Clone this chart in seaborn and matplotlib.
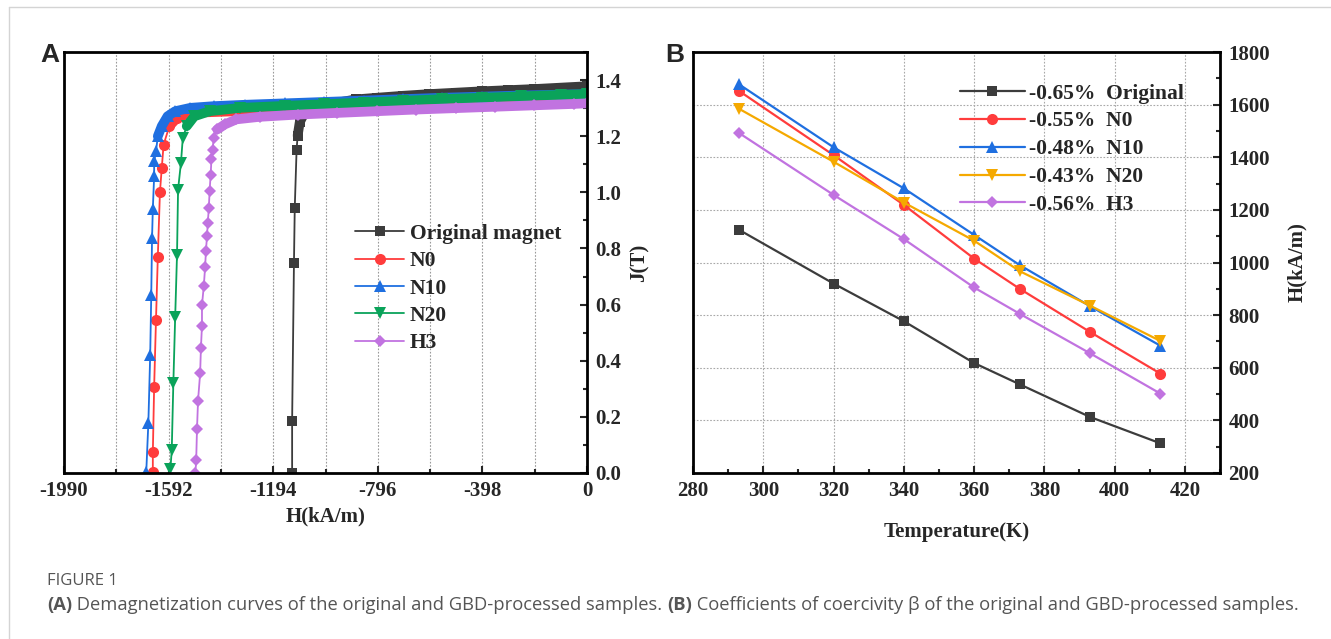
import matplotlib
matplotlib.use("Agg")
import matplotlib.pyplot as plt
from matplotlib.ticker import MultipleLocator, FixedLocator
from matplotlib.lines import Line2D
import numpy as np
import seaborn as sns

# ---------- panel A: demagnetization curves (H in kA/m, J in T) ----------
H_orig = [-1122, -1122, -1115, -1112, -1105, -1101, -1093, -1075, -1040, -960, -880,
          -800, -700, -600, -500, -400, -300, -200, -100, 0]
J_orig = [0.000, 0.185, 0.749, 0.944, 1.152, 1.202, 1.250, 1.283, 1.297, 1.318, 1.331,
          1.337, 1.344, 1.350, 1.355, 1.360, 1.364, 1.368, 1.373, 1.378]

H_n0 = [-1652, -1652, -1647, -1640, -1633, -1625, -1618, -1611, -1589, -1560, -1509,
        -1334, -1150, -1000, -850, -700, -550, -400, -250, -100, 0]
J_n0 = [0.004, 0.074, 0.307, 0.545, 0.771, 1.000, 1.087, 1.170, 1.236, 1.265, 1.283,
        1.289, 1.298, 1.305, 1.312, 1.318, 1.323, 1.328, 1.333, 1.337, 1.340]

H_n10 = [-1677, -1669, -1662, -1658, -1655, -1652, -1647, -1647, -1640, -1633, -1618,
         -1596, -1567, -1509, -1421, -1300, -1150, -1000, -850, -700, -550, -400, -250,
         -100, 0]
J_n10 = [0.004, 0.179, 0.422, 0.634, 0.837, 0.942, 1.057, 1.110, 1.146, 1.200, 1.236,
         1.271, 1.289, 1.301, 1.307, 1.312, 1.317, 1.322, 1.327, 1.332, 1.337, 1.341,
         1.345, 1.348, 1.350]

H_n20 = [-1585, -1580, -1574, -1567, -1560, -1556, -1545, -1538, -1523, -1494, -1436,
         -1319, -1150, -1000, -850, -700, -550, -400, -250, -100, 0]
J_n20 = [0.016, 0.082, 0.319, 0.555, 0.777, 1.010, 1.105, 1.194, 1.236, 1.271, 1.289,
         1.301, 1.308, 1.314, 1.320, 1.326, 1.332, 1.337, 1.342, 1.347, 1.350]

H_h3 = [-1490, -1487, -1484, -1480, -1472, -1469, -1465, -1465, -1458, -1453, -1450,
        -1446, -1443, -1439, -1436, -1432, -1429, -1424, -1421, -1407, -1378, -1334,
        -1246, -1100, -950, -800, -650, -500, -350, -200, -50, 0]
J_h3 = [0.000, 0.046, 0.155, 0.258, 0.355, 0.446, 0.525, 0.598, 0.667, 0.735, 0.790,
        0.843, 0.890, 0.944, 1.004, 1.063, 1.117, 1.152, 1.194, 1.224, 1.242, 1.260,
        1.269, 1.277, 1.283, 1.289, 1.295, 1.300, 1.305, 1.310, 1.315, 1.317]

labels_a = ["Original magnet", "N0", "N10", "N20", "H3"]
curves_a = [(H_orig, J_orig), (H_n0, J_n0), (H_n10, J_n10), (H_n20, J_n20), (H_h3, J_h3)]
xticks_a = [-1990, -1592, -1194, -796, -398, 0]

# ---------- panel B: coercivity vs temperature ----------
temp_k = [293, 320, 340, 360, 373, 393, 413]
hc_orig = [1125, 920, 777, 618, 537, 413, 313]
hc_n0 = [1653, 1408, 1219, 1015, 900, 736, 578]
hc_n10 = [1678, 1438, 1282, 1105, 990, 834, 684]
hc_n20 = [1585, 1383, 1228, 1083, 967, 836, 702]
hc_h3 = [1493, 1257, 1089, 905, 805, 655, 502]
labels_b = ["-0.65%  Original", "-0.55%  N0", "-0.48%  N10", "-0.43%  N20", "-0.56%  H3"]
series_b = [hc_orig, hc_n0, hc_n10, hc_n20, hc_h3]

colors_a = ["#3c3c3c", "#ff3c3c", "#1f6fe0", "#0aa35a", "#c173e0"]
colors_b = ["#3c3c3c", "#ff3c3c", "#1f6fe0", "#f5a900", "#c173e0"]
markers = ["s", "o", "^", "v", "D"]
msizes = [7.5, 8, 8.5, 8.5, 6.5]

sns.set_style("white")
plt.rcParams["font.family"] = ["Liberation Serif", "DejaVu Serif"]
plt.rcParams["font.weight"] = "bold"

W, Hh = 1331, 639
fig = plt.figure(figsize=(W / 100, Hh / 100), dpi=100)

def box(l, r, t, b):
    return [l / W, 1 - b / Hh, (r - l) / W, (b - t) / Hh]

tickfont = dict(family="Liberation Serif", weight="bold", size=15)
legfont = dict(family="Liberation Serif", weight="bold", size=15.5)

# ---- panel A ----
axA = fig.add_axes(box(64, 587, 52, 473))
for (hx, jy), lab, c, m, ms in zip(curves_a, labels_a, colors_a, markers, msizes):
    hx = np.array(hx)
    jy = np.array(jy)
    band = jy >= 1.2
    sns.lineplot(x=hx[band], y=jy[band], ax=axA, sort=False, estimator=None,
                 color=c, linewidth=7, legend=False)
    sns.lineplot(x=hx, y=jy, ax=axA, sort=False, estimator=None, color=c,
                 linewidth=1.3, marker=m, markersize=ms,
                 markeredgewidth=0, label=lab, legend=False)

axA.set_xlim(-1990, 0)
axA.set_ylim(0, 1.5)
axA.xaxis.set_major_locator(FixedLocator(xticks_a))
axA.xaxis.set_minor_locator(FixedLocator([-1791, -1393, -995, -597, -199]))
axA.yaxis.set_major_locator(MultipleLocator(0.2))
axA.yaxis.set_minor_locator(MultipleLocator(0.1))
axA.yaxis.tick_right()
axA.yaxis.set_label_position("right")
axA.set_yticklabels(["%.1f" % v for v in axA.get_yticks()])
axA.set_xticklabels([str(v) for v in xticks_a])
axA.tick_params(axis="both", which="both", direction="in", width=1.5)
axA.tick_params(axis="both", which="major", length=5, pad=6)
axA.tick_params(axis="both", which="minor", length=3)
axA.tick_params(axis="x", which="both", top=False, bottom=True)
axA.tick_params(axis="y", which="both", left=False, right=True)
axA.grid(True, axis="x", which="both", linestyle=(0, (1.5, 1.5)), color="#9a9a9a", linewidth=0.8)
for lbl in axA.get_xticklabels() + axA.get_yticklabels():
    lbl.set_fontproperties(tickfont)
axA.set_xlabel("H(kA/m)", fontsize=15, fontweight="bold", labelpad=4)
axA.set_ylabel("J(T)", fontsize=15, fontweight="bold", labelpad=6)
for s in axA.spines.values():
    s.set_linewidth(2)
    s.set_color("black")
axA.legend(loc="upper left", bbox_to_anchor=(0.556, 0.592), frameon=False,
           handlelength=2.3, handletextpad=0.25, labelspacing=0.34,
           borderpad=0, borderaxespad=0, prop=legfont)

# ---- panel B ----
axB = fig.add_axes(box(693, 1220, 52, 473))
for vals, lab, c, m, ms in zip(series_b, labels_b, colors_b, markers, msizes):
    sns.lineplot(x=temp_k, y=vals, ax=axB, sort=False, estimator=None, color=c,
                 linewidth=1.6, marker=m, markersize=ms,
                 markeredgewidth=0, label=lab, legend=False)
axB.set_xlim(280, 430)
axB.set_ylim(200, 1800)
axB.xaxis.set_major_locator(FixedLocator(list(range(280, 421, 20))))
axB.xaxis.set_minor_locator(MultipleLocator(10))
axB.yaxis.set_major_locator(MultipleLocator(200))
axB.yaxis.set_minor_locator(MultipleLocator(100))
axB.yaxis.tick_right()
axB.yaxis.set_label_position("right")
axB.tick_params(axis="both", which="both", direction="in", width=1.5)
axB.tick_params(axis="both", which="major", length=5, pad=6)
axB.tick_params(axis="both", which="minor", length=3)
axB.tick_params(axis="x", which="both", top=False, bottom=True)
axB.tick_params(axis="y", which="both", left=False, right=True)
axB.grid(True, which="major", linestyle=(0, (1.5, 1.5)), color="#a8a8a8", linewidth=0.8)
for lbl in axB.get_xticklabels() + axB.get_yticklabels():
    lbl.set_fontproperties(tickfont)
axB.set_xlabel("Temperature(K)", fontsize=15, fontweight="bold", labelpad=15)
axB.set_ylabel("H(kA/m)", fontsize=15, fontweight="bold", labelpad=12)
for s in axB.spines.values():
    s.set_linewidth(2)
    s.set_color("black")
axB.legend(loc="upper left", bbox_to_anchor=(0.507, 0.925), frameon=False,
           handlelength=3.0, handletextpad=0.2, labelspacing=0.36,
           borderpad=0, borderaxespad=0, prop=legfont)

# panel letters
fig.text(40 / W, 1 - 55 / Hh, "A", fontsize=19, fontweight="bold", family="Liberation Sans", va="center")
fig.text(665 / W, 1 - 55 / Hh, "B", fontsize=19, fontweight="bold", family="Liberation Sans", va="center")

# page frame lines
fig.add_artist(Line2D([9 / W, 1], [1 - 7 / Hh, 1 - 7 / Hh], color="#d4d4d4", lw=1))
fig.add_artist(Line2D([9 / W, 9 / W], [0, 1 - 7 / Hh], color="#d4d4d4", lw=1))

# caption
capc = "#555555"
fig.text(47 / W, 1 - 581 / Hh, "FIGURE 1", fontsize=12, family="Open Sans", weight="normal",
         color=capc, va="center")
pieces = [("(A)", "bold"), (" Demagnetization curves of the original and GBD-processed samples. ", "normal"),
          ("(B)", "bold"), (" Coefficients of coercivity \u03b2 of the original and GBD-processed samples.", "normal")]
renderer = fig.canvas.get_renderer()
xpos = 47
for txt, wt in pieces:
    t = fig.text(xpos / W, 1 - 605 / Hh, txt, fontsize=13.2, family="Open Sans", weight=wt,
                 color=capc, va="center")
    xpos += t.get_window_extent(renderer).width

fig.savefig("out.png", dpi=100)
